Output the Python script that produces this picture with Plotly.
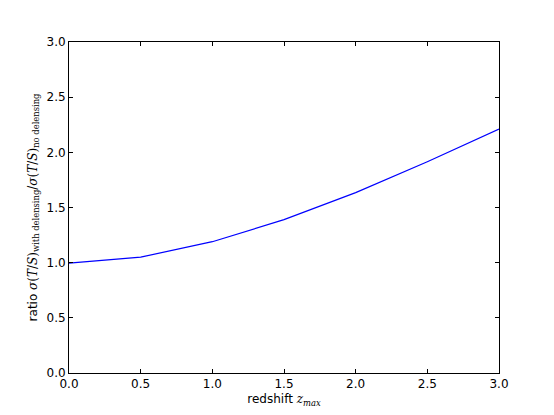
import plotly.graph_objects as go

zmax = [0.0, 0.5, 1.0, 1.5, 2.0, 2.5, 3.0]
ratio = [0.995, 1.05, 1.19, 1.39, 1.635, 1.915, 2.21]

ticks = [0.0, 0.5, 1.0, 1.5, 2.0, 2.5, 3.0]
ticklabels = ["0.0", "0.5", "1.0", "1.5", "2.0", "2.5", "3.0"]

sans = "font-family:'DejaVu Sans'"
serif = "font-family:'DejaVu Serif'"


def math(s):
    return f"<span style=\"{serif}\">{s}</span>"


ylabel = (f"<span style=\"{sans}\">ratio </span>"
          + math("<i>σ</i>(<i>T</i>/<i>S</i>)")
          + "<sub>" + math("with delensing") + "</sub>"
          + math("/<i>σ</i>(<i>T</i>/<i>S</i>)")
          + "<sub>" + math("no delensing") + "</sub>")
xlabel = (f"<span style=\"{sans}\">redshift </span>"
          + math("<i>z</i>") + "<sub>" + math("<i>max</i>") + "</sub>")

fig = go.Figure()
fig.add_trace(go.Scatter(x=zmax, y=ratio, mode="lines",
                         line=dict(color="#0000ff", width=1.2)))

axis_style = dict(range=[0, 3], tickvals=ticks, ticktext=ticklabels,
                  ticks="inside", ticklen=4, tickcolor="black",
                  showline=True, linecolor="black", linewidth=1,
                  mirror="ticks", showgrid=False, zeroline=False,
                  tickfont=dict(size=12, color="black"))

fig.update_xaxes(**axis_style, title=dict(text=xlabel, standoff=4,
                                          font=dict(size=12, color="black")))
fig.update_yaxes(**axis_style, title=dict(text=ylabel, standoff=6,
                                          font=dict(size=12, color="black")))

# the page body adds an 8px offset, so margins are shifted to compensate
fig.update_layout(width=554, height=415,
                  margin=dict(l=61, r=63, t=34, b=50),
                  plot_bgcolor="white", paper_bgcolor="white",
                  font=dict(family="DejaVu Sans", size=12, color="black"),
                  showlegend=False)

fig.write_html("out.html")
